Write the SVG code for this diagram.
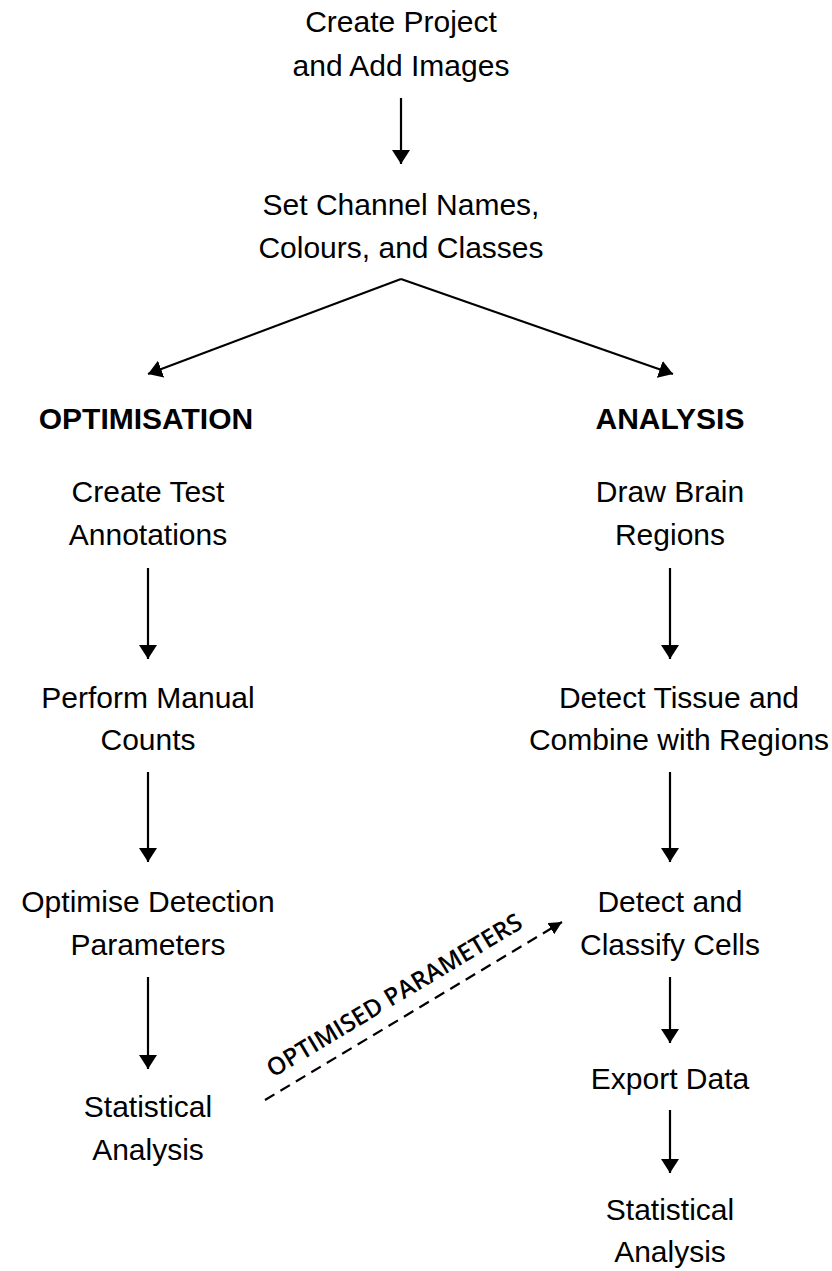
<svg xmlns="http://www.w3.org/2000/svg" width="832" height="1271" viewBox="0 0 832 1271">
<defs>
<style>
.t{font-family:"Liberation Sans",Arial,sans-serif;font-size:30px;fill:#000;text-anchor:middle}
.b{font-weight:bold}
.c{fill:none;stroke:#000;stroke-width:2.2}
.d{stroke-dasharray:11 7}
.lbl{font-family:"Open Sans","Noto Sans",sans-serif;font-weight:600;font-size:24.5px;fill:#000}
</style>
<marker id="ah" markerUnits="userSpaceOnUse" markerWidth="15" markerHeight="19" refX="14" refY="9" orient="auto" viewBox="0 0 15 18">
<path d="M0,0 L14,9 L0,18 z" fill="#000"/>
</marker>
<marker id="ahs" markerUnits="userSpaceOnUse" markerWidth="14" markerHeight="14" refX="13" refY="6.5" orient="auto" viewBox="0 0 14 13">
<path d="M0,0 L13,6.5 L0,13 z" fill="#000"/>
</marker>
</defs>
<g id="connectors">
<line class="c" x1="401" y1="98" x2="401" y2="164" marker-end="url(#ah)"/>
<line class="c" x1="401" y1="279" x2="148" y2="374" marker-end="url(#ah)"/>
<line class="c" x1="401" y1="279" x2="673" y2="374" marker-end="url(#ah)"/>
<line class="c" x1="148" y1="568" x2="148" y2="659" marker-end="url(#ah)"/>
<line class="c" x1="148" y1="772" x2="148" y2="862" marker-end="url(#ah)"/>
<line class="c" x1="148" y1="977" x2="148" y2="1069" marker-end="url(#ah)"/>
<line class="c" x1="670" y1="568" x2="670" y2="659" marker-end="url(#ah)"/>
<line class="c" x1="670" y1="772" x2="670" y2="862" marker-end="url(#ah)"/>
<line class="c" x1="670" y1="977" x2="670" y2="1043" marker-end="url(#ah)"/>
<line class="c" x1="670" y1="1110" x2="670" y2="1173" marker-end="url(#ah)"/>
<line class="c d" x1="265" y1="1100" x2="562" y2="922" marker-end="url(#ahs)"/>
<text class="lbl" transform="translate(273,1078) rotate(-31)">OPTIMISED PARAMETERS</text>
</g>
<g id="create-project"><text class="t" x="401" y="32">Create Project</text><text class="t" x="401" y="76">and Add Images</text></g>
<g id="set-channel"><text class="t" x="401" y="215">Set Channel Names,</text><text class="t" x="401" y="258">Colours, and Classes</text></g>
<g id="optimisation"><text class="t b" x="146" y="429">OPTIMISATION</text></g>
<g id="analysis"><text class="t b" x="670" y="429">ANALYSIS</text></g>
<g id="create-test"><text class="t" x="148" y="502">Create Test</text><text class="t" x="148" y="545">Annotations</text></g>
<g id="manual-counts"><text class="t" x="148" y="708">Perform Manual</text><text class="t" x="148" y="750">Counts</text></g>
<g id="optimise-detection"><text class="t" x="148" y="912">Optimise Detection</text><text class="t" x="148" y="955">Parameters</text></g>
<g id="stat-left"><text class="t" x="148" y="1117">Statistical</text><text class="t" x="148" y="1160">Analysis</text></g>
<g id="draw-brain"><text class="t" x="670" y="502">Draw Brain</text><text class="t" x="670" y="545">Regions</text></g>
<g id="detect-tissue"><text class="t" x="679" y="708">Detect Tissue and</text><text class="t" x="679" y="750">Combine with Regions</text></g>
<g id="detect-cells"><text class="t" x="670" y="912">Detect and</text><text class="t" x="670" y="955">Classify Cells</text></g>
<g id="export-data"><text class="t" x="670" y="1089">Export Data</text></g>
<g id="stat-right"><text class="t" x="670" y="1220">Statistical</text><text class="t" x="670" y="1262">Analysis</text></g>
</svg>
